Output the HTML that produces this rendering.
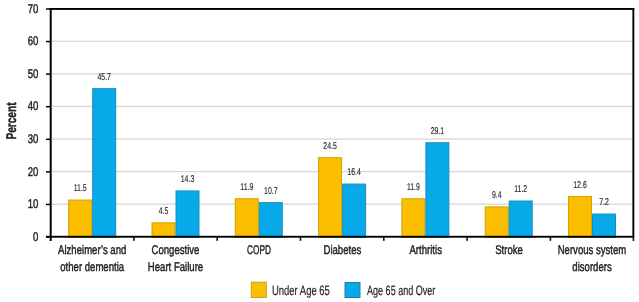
<!DOCTYPE html>
<html><head><meta charset="utf-8"><style>
html,body{margin:0;padding:0;background:#fff;width:639px;height:302px;overflow:hidden}
svg{display:block;text-rendering:geometricPrecision;will-change:transform;font-family:"Liberation Sans",sans-serif}
</style></head><body>
<svg width="639" height="302" viewBox="0 0 639 302">
<rect x="52" y="203.48" width="580" height="1.3" fill="#d6d6d6"/>
<rect x="52" y="170.91" width="580" height="1.3" fill="#d6d6d6"/>
<rect x="52" y="138.34" width="580" height="1.3" fill="#d6d6d6"/>
<rect x="52" y="105.76" width="580" height="1.3" fill="#d6d6d6"/>
<rect x="52" y="73.19" width="580" height="1.3" fill="#d6d6d6"/>
<rect x="52" y="40.62" width="580" height="1.3" fill="#d6d6d6"/>
<rect x="68.70" y="200.04" width="23" height="37.46" fill="#FCBF00" stroke="#CFA200" stroke-width="1"/>
<rect x="92.70" y="88.65" width="23" height="148.85" fill="#08A9E8" stroke="#1590C0" stroke-width="1"/>
<text transform="translate(80.20,191.34) scale(0.7,1)" text-anchor="middle" font-size="9.9" font-weight="normal" fill="#231f20" stroke="#231f20" stroke-width="0.15">11.5</text>
<text transform="translate(104.20,79.95) scale(0.7,1)" text-anchor="middle" font-size="9.9" font-weight="normal" fill="#231f20" stroke="#231f20" stroke-width="0.15">45.7</text>
<text transform="translate(92.20,254.00) scale(0.76,1)" text-anchor="middle" font-size="12.6" font-weight="normal" fill="#231f20" stroke="#231f20" stroke-width="0.45">Alzheimer&#8217;s and</text>
<text transform="translate(92.20,270.80) scale(0.76,1)" text-anchor="middle" font-size="12.6" font-weight="normal" fill="#231f20" stroke="#231f20" stroke-width="0.45">other dementia</text>
<rect x="152.00" y="222.84" width="23" height="14.66" fill="#FCBF00" stroke="#CFA200" stroke-width="1"/>
<rect x="176.00" y="190.92" width="23" height="46.58" fill="#08A9E8" stroke="#1590C0" stroke-width="1"/>
<text transform="translate(163.50,214.14) scale(0.7,1)" text-anchor="middle" font-size="9.9" font-weight="normal" fill="#231f20" stroke="#231f20" stroke-width="0.15">4.5</text>
<text transform="translate(187.50,182.22) scale(0.7,1)" text-anchor="middle" font-size="9.9" font-weight="normal" fill="#231f20" stroke="#231f20" stroke-width="0.15">14.3</text>
<text transform="translate(175.50,254.00) scale(0.76,1)" text-anchor="middle" font-size="12.6" font-weight="normal" fill="#231f20" stroke="#231f20" stroke-width="0.45">Congestive</text>
<text transform="translate(175.50,270.80) scale(0.76,1)" text-anchor="middle" font-size="12.6" font-weight="normal" fill="#231f20" stroke="#231f20" stroke-width="0.45">Heart Failure</text>
<rect x="235.30" y="198.74" width="23" height="38.76" fill="#FCBF00" stroke="#CFA200" stroke-width="1"/>
<rect x="259.30" y="202.65" width="23" height="34.85" fill="#08A9E8" stroke="#1590C0" stroke-width="1"/>
<text transform="translate(246.80,190.04) scale(0.7,1)" text-anchor="middle" font-size="9.9" font-weight="normal" fill="#231f20" stroke="#231f20" stroke-width="0.15">11.9</text>
<text transform="translate(270.80,193.95) scale(0.7,1)" text-anchor="middle" font-size="9.9" font-weight="normal" fill="#231f20" stroke="#231f20" stroke-width="0.15">10.7</text>
<text transform="translate(259.10,254.00) scale(0.66,1)" text-anchor="middle" font-size="12.6" font-weight="normal" fill="#231f20" stroke="#231f20" stroke-width="0.45">COPD</text>
<rect x="318.60" y="157.70" width="23" height="79.80" fill="#FCBF00" stroke="#CFA200" stroke-width="1"/>
<rect x="342.60" y="184.08" width="23" height="53.42" fill="#08A9E8" stroke="#1590C0" stroke-width="1"/>
<text transform="translate(330.10,149.00) scale(0.7,1)" text-anchor="middle" font-size="9.9" font-weight="normal" fill="#231f20" stroke="#231f20" stroke-width="0.15">24.5</text>
<text transform="translate(354.10,175.38) scale(0.7,1)" text-anchor="middle" font-size="9.9" font-weight="normal" fill="#231f20" stroke="#231f20" stroke-width="0.15">16.4</text>
<text transform="translate(342.40,254.00) scale(0.76,1)" text-anchor="middle" font-size="12.6" font-weight="normal" fill="#231f20" stroke="#231f20" stroke-width="0.45">Diabetes</text>
<rect x="401.90" y="198.74" width="23" height="38.76" fill="#FCBF00" stroke="#CFA200" stroke-width="1"/>
<rect x="425.90" y="142.72" width="23" height="94.78" fill="#08A9E8" stroke="#1590C0" stroke-width="1"/>
<text transform="translate(413.40,190.04) scale(0.7,1)" text-anchor="middle" font-size="9.9" font-weight="normal" fill="#231f20" stroke="#231f20" stroke-width="0.15">11.9</text>
<text transform="translate(437.40,134.02) scale(0.7,1)" text-anchor="middle" font-size="9.9" font-weight="normal" fill="#231f20" stroke="#231f20" stroke-width="0.15">29.1</text>
<text transform="translate(425.70,254.00) scale(0.76,1)" text-anchor="middle" font-size="12.6" font-weight="normal" fill="#231f20" stroke="#231f20" stroke-width="0.45">Arthritis</text>
<rect x="485.20" y="206.88" width="23" height="30.62" fill="#FCBF00" stroke="#CFA200" stroke-width="1"/>
<rect x="509.20" y="201.02" width="23" height="36.48" fill="#08A9E8" stroke="#1590C0" stroke-width="1"/>
<text transform="translate(496.70,198.18) scale(0.7,1)" text-anchor="middle" font-size="9.9" font-weight="normal" fill="#231f20" stroke="#231f20" stroke-width="0.15">9.4</text>
<text transform="translate(520.70,192.32) scale(0.7,1)" text-anchor="middle" font-size="9.9" font-weight="normal" fill="#231f20" stroke="#231f20" stroke-width="0.15">11.2</text>
<text transform="translate(509.00,254.00) scale(0.76,1)" text-anchor="middle" font-size="12.6" font-weight="normal" fill="#231f20" stroke="#231f20" stroke-width="0.45">Stroke</text>
<rect x="568.50" y="196.46" width="23" height="41.04" fill="#FCBF00" stroke="#CFA200" stroke-width="1"/>
<rect x="592.50" y="214.05" width="23" height="23.45" fill="#08A9E8" stroke="#1590C0" stroke-width="1"/>
<text transform="translate(580.00,187.76) scale(0.7,1)" text-anchor="middle" font-size="9.9" font-weight="normal" fill="#231f20" stroke="#231f20" stroke-width="0.15">12.6</text>
<text transform="translate(604.00,205.35) scale(0.7,1)" text-anchor="middle" font-size="9.9" font-weight="normal" fill="#231f20" stroke="#231f20" stroke-width="0.15">7.2</text>
<text transform="translate(592.00,254.00) scale(0.76,1)" text-anchor="middle" font-size="12.6" font-weight="normal" fill="#231f20" stroke="#231f20" stroke-width="0.45">Nervous system</text>
<text transform="translate(592.00,270.80) scale(0.76,1)" text-anchor="middle" font-size="12.6" font-weight="normal" fill="#231f20" stroke="#231f20" stroke-width="0.45">disorders</text>
<rect x="49.7" y="8" width="584.6" height="1.9" fill="#000"/>
<rect x="632.4" y="8" width="1.9" height="229.5" fill="#000"/>
<rect x="632.6" y="236" width="1.6" height="5" fill="#111"/>
<rect x="49.7" y="8" width="2" height="233" fill="#000"/>
<rect x="46" y="235.8" width="588" height="1.9" fill="#000"/>
<rect x="46" y="236.25" width="5" height="1.5" fill="#000"/>
<text transform="translate(38.30,240.70) scale(0.76,1)" text-anchor="end" font-size="12.6" font-weight="normal" fill="#231f20" stroke="#231f20" stroke-width="0.45">0</text>
<rect x="46" y="203.68" width="5" height="1.5" fill="#000"/>
<text transform="translate(38.30,208.13) scale(0.76,1)" text-anchor="end" font-size="12.6" font-weight="normal" fill="#231f20" stroke="#231f20" stroke-width="0.45">10</text>
<rect x="46" y="171.11" width="5" height="1.5" fill="#000"/>
<text transform="translate(38.30,175.56) scale(0.76,1)" text-anchor="end" font-size="12.6" font-weight="normal" fill="#231f20" stroke="#231f20" stroke-width="0.45">20</text>
<rect x="46" y="138.54" width="5" height="1.5" fill="#000"/>
<text transform="translate(38.30,142.99) scale(0.76,1)" text-anchor="end" font-size="12.6" font-weight="normal" fill="#231f20" stroke="#231f20" stroke-width="0.45">30</text>
<rect x="46" y="105.96" width="5" height="1.5" fill="#000"/>
<text transform="translate(38.30,110.41) scale(0.76,1)" text-anchor="end" font-size="12.6" font-weight="normal" fill="#231f20" stroke="#231f20" stroke-width="0.45">40</text>
<rect x="46" y="73.39" width="5" height="1.5" fill="#000"/>
<text transform="translate(38.30,77.84) scale(0.76,1)" text-anchor="end" font-size="12.6" font-weight="normal" fill="#231f20" stroke="#231f20" stroke-width="0.45">50</text>
<rect x="46" y="40.82" width="5" height="1.5" fill="#000"/>
<text transform="translate(38.30,45.27) scale(0.76,1)" text-anchor="end" font-size="12.6" font-weight="normal" fill="#231f20" stroke="#231f20" stroke-width="0.45">60</text>
<rect x="46" y="8.25" width="5" height="1.5" fill="#000"/>
<text transform="translate(38.30,12.70) scale(0.76,1)" text-anchor="end" font-size="12.6" font-weight="normal" fill="#231f20" stroke="#231f20" stroke-width="0.45">70</text>
<rect x="133.10" y="236" width="1.6" height="4.8" fill="#111"/>
<rect x="216.40" y="236" width="1.6" height="4.8" fill="#111"/>
<rect x="299.70" y="236" width="1.6" height="4.8" fill="#111"/>
<rect x="383.00" y="236" width="1.6" height="4.8" fill="#111"/>
<rect x="466.30" y="236" width="1.6" height="4.8" fill="#111"/>
<rect x="549.60" y="236" width="1.6" height="4.8" fill="#111"/>
<text transform="translate(15.9,121) rotate(-90) scale(0.72,1)" text-anchor="middle" font-size="14" font-weight="bold" fill="#231f20" stroke="#231f20" stroke-width="0.45">Percent</text>
<rect x="251.3" y="282.2" width="15" height="15.3" fill="#FCBF00" stroke="#c9a21a" stroke-width="1"/>
<text transform="translate(272.00,294.50) scale(0.7,1)" text-anchor="start" font-size="13.5" font-weight="normal" fill="#231f20" stroke="#231f20" stroke-width="0.2">Under Age 65</text>
<rect x="345" y="282.5" width="15" height="15" fill="#08A9E8" stroke="#1a7fb0" stroke-width="1"/>
<text transform="translate(367.00,294.50) scale(0.67,1)" text-anchor="start" font-size="13.5" font-weight="normal" fill="#231f20" stroke="#231f20" stroke-width="0.2">Age 65 and Over</text>
</svg></body></html>
